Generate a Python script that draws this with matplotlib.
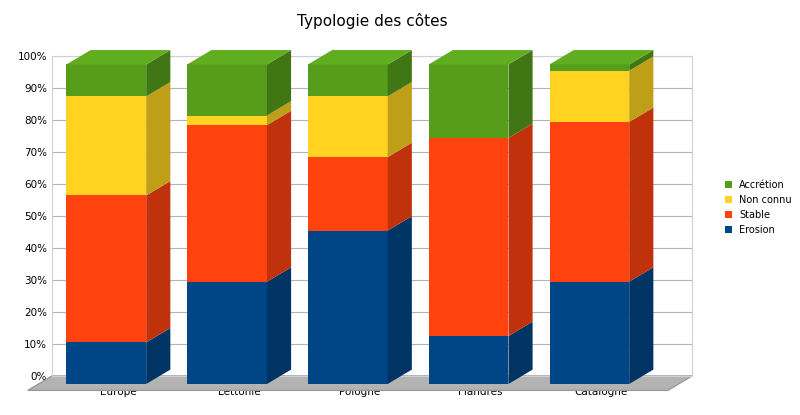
import matplotlib.pyplot as plt
from matplotlib.patches import Polygon, Rectangle
import numpy as np

categories = ["Europe", "Lettonie", "Pologne", "Flandres", "Catalogne"]
erosion = [13, 32, 48, 15, 32]
stable = [46, 49, 23, 62, 50]
non_connu = [31, 3, 19, 0, 16]
accretion = [10, 16, 10, 23, 2]

series = [("Erosion", erosion, "#004586"), ("Stable", stable, "#ff420e"),
          ("Non connu", non_connu, "#ffd320"), ("Accrétion", accretion, "#579d1c")]

def shade(c, f):
    c = np.array(plt.matplotlib.colors.to_rgb(c))
    return tuple(np.clip(c * f, 0, 1))

fig = plt.figure(figsize=(8, 4.15), dpi=100)
ax = fig.add_axes([0.065, 0.094, 0.80, 0.77])
ax.set_xlim(-0.55, 4.75)
ax.set_ylim(0, 100)
ax.set_yticks(range(0, 101, 10))
ax.set_yticklabels([f"{v}%" for v in range(0, 101, 10)], fontsize=7.5)
ax.set_xticks(range(len(categories)))
ax.set_xticklabels(categories, fontsize=7.5)
ax.tick_params(length=0)
ax.tick_params(axis="x", pad=8)
ax.yaxis.grid(True, color="#b3b3b3", lw=0.8)
ax.set_axisbelow(True)
for s in ax.spines.values():
    s.set_color("#d0d0d0")
ax.set_title("Typologie des côtes", fontsize=11, pad=22)

w, dx, dy = 0.66, 0.2, 4.5
off = -2.5
# floor
ax.add_patch(Polygon([(-0.75, off - 2), (4.55, off - 2), (4.75, 0), (-0.55, 0)],
                     closed=True, fc="#b3b3b3", ec="#999999", clip_on=False, zorder=1))
for i in range(len(categories)):
    x0 = i - w / 2 - dx / 2
    base = off
    last = None
    for name, vals, col in series:
        v = vals[i]
        if v <= 0:
            continue
        top = base + v
        ax.add_patch(Rectangle((x0, base), w, v, fc=col, ec="none", zorder=3, clip_on=False))
        ax.add_patch(Polygon([(x0 + w, base), (x0 + w + dx, base + dy),
                              (x0 + w + dx, top + dy), (x0 + w, top)],
                             fc=shade(col, 0.75), ec="none", zorder=3, clip_on=False))
        last = (top, col)
        base = top
    top, col = last
    ax.add_patch(Polygon([(x0, top), (x0 + dx, top + dy),
                          (x0 + w + dx, top + dy), (x0 + w, top)],
                         fc=shade(col, 1.1), ec="none", zorder=4, clip_on=False))

handles = [Rectangle((0, 0), 1, 1, fc=c) for _, _, c in series][::-1]
labels = [n for n, _, _ in series][::-1]
fig.legend(handles, labels, loc="center left", bbox_to_anchor=(0.895, 0.5),
           frameon=False, fontsize=7, handlelength=0.7, handleheight=0.7)
fig.savefig("out.png", dpi=100)
